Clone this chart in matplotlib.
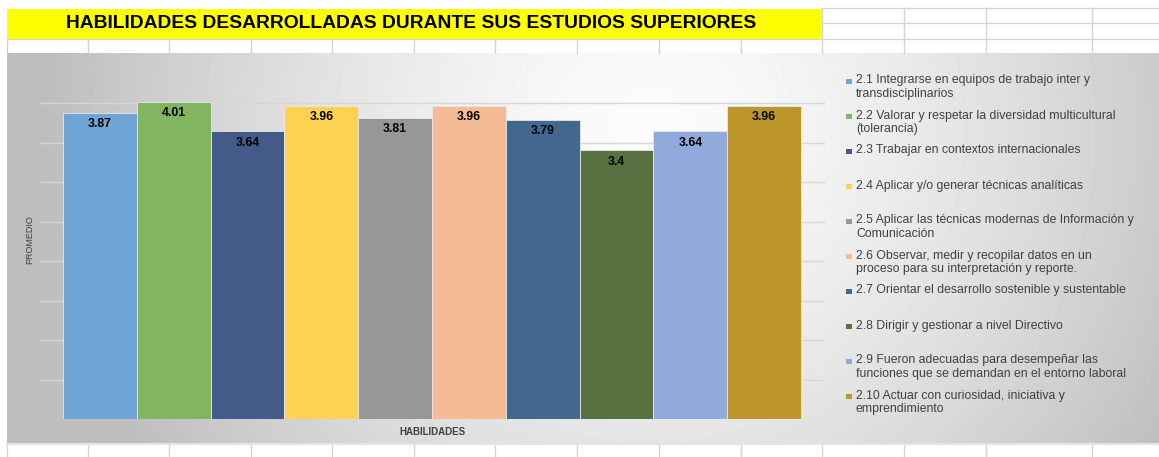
import numpy as np
import matplotlib
matplotlib.use("Agg")
import matplotlib.pyplot as plt
from matplotlib.patches import Rectangle

plt.rcParams['font.family'] = ['Liberation Sans', 'DejaVu Sans']

# Data
labels = [
    "2.1 Integrarse en equipos de trabajo inter y\ntransdisciplinarios",
    "2.2 Valorar y respetar la diversidad multicultural\n(tolerancia)",
    "2.3 Trabajar en contextos internacionales",
    "2.4 Aplicar y/o generar técnicas analíticas",
    "2.5 Aplicar las técnicas modernas de Información y\nComunicación",
    "2.6 Observar, medir y recopilar datos en un\nproceso para su interpretación y reporte.",
    "2.7 Orientar el desarrollo sostenible y sustentable",
    "2.8 Dirigir y gestionar a nivel Directivo",
    "2.9 Fueron adecuadas para desempeñar las\nfunciones que se demandan en el entorno laboral",
    "2.10 Actuar con curiosidad, iniciativa y\nemprendimiento",
]
values = [3.87, 4.01, 3.64, 3.96, 3.81, 3.96, 3.79, 3.4, 3.64, 3.96]
value_text = ["3.87", "4.01", "3.64", "3.96", "3.81", "3.96", "3.79", "3.4", "3.64", "3.96"]
colors = ["#6fa5d6", "#82b55f", "#445a88", "#fdd152", "#979797",
          "#f5bb94", "#426890", "#587141", "#91aadc", "#bc962a"]

W, H = 1159, 457
fig = plt.figure(figsize=(W / 100, H / 100), dpi=100)

# background: spreadsheet + chart area, in pixel coordinates
bg = fig.add_axes([0, 0, 1, 1])
bg.set_xlim(0, W)
bg.set_ylim(H, 0)
bg.axis('off')

# chart area gradient
cx0, cx1, cy0, cy1 = 7, 1159, 53, 443
xx, yy = np.meshgrid(np.arange(cx0, cx1), np.arange(cy0, cy1))
d = np.sqrt(((xx - 650) / 600.0) ** 2 + ((yy - 130) / 600.0) ** 2)
shade = 0.985 - 0.24 * np.clip(d, 0, 1) ** 1.5
bg.imshow(shade, cmap='gray', vmin=0, vmax=1, extent=[cx0, cx1, cy1, cy0],
          aspect='auto', interpolation='bilinear', zorder=1)

grid_c = "#d4d4d4"
cols = [7, 88, 169, 251, 332, 414, 495, 577, 659, 741, 822, 904, 986, 1092]
# top rows
bg.add_patch(Rectangle((7, 9), 815, 30, facecolor="#ffff00", edgecolor='none', zorder=2))
for y in [8, 23]:
    bg.plot([822, W], [y, y], color=grid_c, lw=1, zorder=1.5)
bg.plot([7, W], [39, 39], color=grid_c, lw=1, zorder=1.5)
for x in cols:
    bg.plot([x, x], [39, 53], color=grid_c, lw=1, zorder=1.5)
    if x >= 822:
        bg.plot([x, x], [8, 39], color=grid_c, lw=1, zorder=1.5)
    bg.plot([x, x], [443, H], color=grid_c, lw=1, zorder=1.5)
bg.plot([7, W], [443.5, 443.5], color="#e4e4e4", lw=1.5, zorder=3)

bg.text(411, 24, "HABILIDADES DESARROLLADAS DURANTE SUS ESTUDIOS SUPERIORES",
        ha='center', va='center', fontsize=13.9, fontweight='bold', color='black', zorder=3)

# bar chart
ax_l, ax_r, ax_t, ax_b = 39, 825, 93, 419
ax = fig.add_axes([ax_l / W, (H - ax_b) / H, (ax_r - ax_l) / W, (ax_b - ax_t) / H])
ax.set_facecolor('none')
x = np.arange(len(values))
bars = ax.bar(x, values, width=1.0, color=colors, edgecolor="#e8e8e8", linewidth=0.6, zorder=2)
ax.set_xlim(-0.825, 9.825)
ax.set_ylim(0, (ax_b - ax_t) / 79.0)
ax.set_yticks(np.arange(0, 4.01, 0.5))
ax.yaxis.grid(True, color="#d6d6d6", lw=1, zorder=0)
ax.set_xticks([])
ax.tick_params(axis='y', length=0, labelleft=False)
for s in ax.spines.values():
    s.set_visible(False)

for b, t in zip(bars, value_text):
    ax.annotate(t, (b.get_x() + b.get_width() / 2, b.get_height()),
                xytext=(0, -8), textcoords='offset points', ha='center', va='center',
                fontsize=8.8, fontweight='bold', color='black', zorder=3)

fig.text(30 / W, 1 - 240 / H, "PROMEDIO", rotation=90, ha='center', va='center',
         fontsize=6.5, color="#404040")
fig.text(432 / W, 1 - 432 / H, "HABILIDADES", ha='center', va='center',
         fontsize=7, fontweight='bold', color="#404040")

# legend
for i, (lab, c) in enumerate(zip(labels, colors)):
    yc = 81 + 35.0 * i
    bg.add_patch(Rectangle((846, yc - 2.5), 5.5, 5.5, facecolor=c, edgecolor='none', zorder=3))
    bg.text(856, yc - 6.5, lab, ha='left', va='top', fontsize=8.8, color="#404040",
            linespacing=1.2, zorder=3)

fig.savefig("out.png", dpi=100)
